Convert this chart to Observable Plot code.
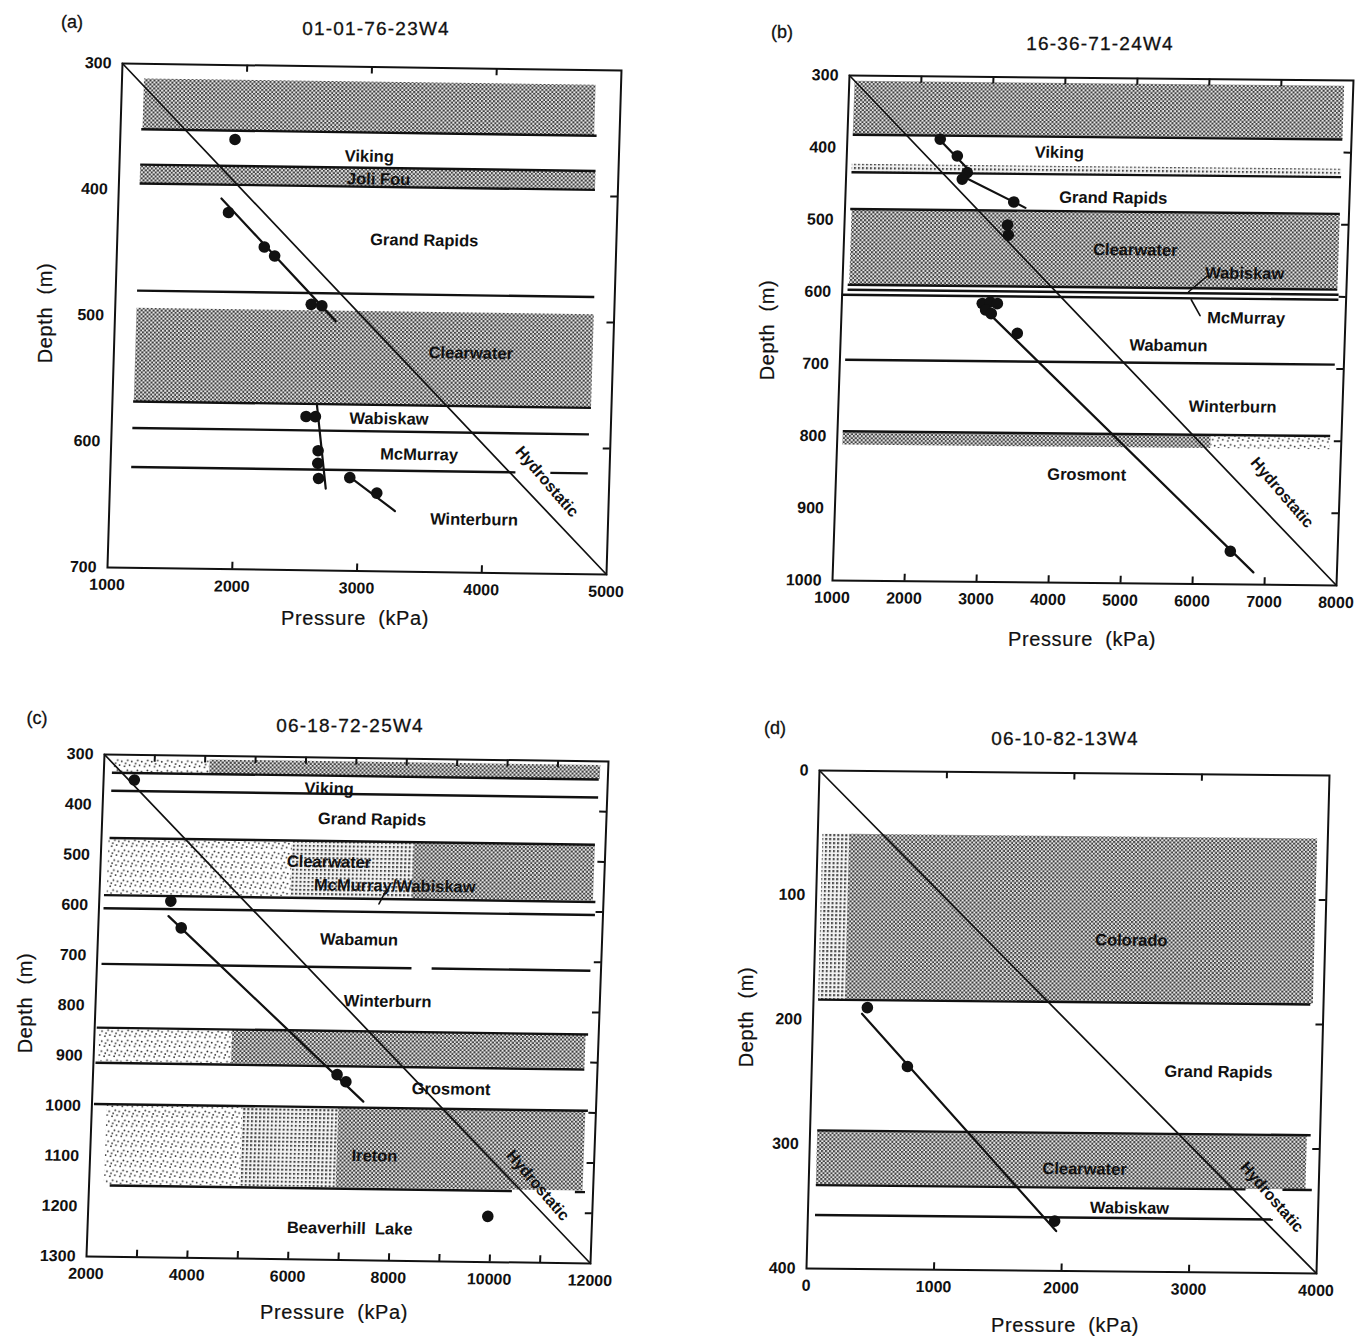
<!DOCTYPE html>
<html><head><meta charset="utf-8">
<script src="https://cdn.jsdelivr.net/npm/d3@7"></script>
<script src="https://cdn.jsdelivr.net/npm/@observablehq/plot@0.6"></script>
<style>
html,body{margin:0;padding:0;background:#fff;}
body{width:1361px;height:1337px;position:relative;overflow:hidden;font-family:"Liberation Sans",Arial,sans-serif;color:#111;}
.txt{position:absolute;white-space:pre;transform:translate(-50%,-50%);line-height:1;}
.ttl{font-size:19px;letter-spacing:1.2px;-webkit-text-stroke:0.3px #111;}
.let{font-size:18px;-webkit-text-stroke:0.3px #111;}
.ax{font-size:20px;letter-spacing:0.6px;-webkit-text-stroke:0.2px #111;}
.axy{font-size:20px;letter-spacing:0.6px;-webkit-text-stroke:0.2px #111;transform:translate(-50%,-50%) rotate(-90deg);}
svg.panel{position:absolute;overflow:visible;}
</style></head><body>
<svg width="0" height="0" style="position:absolute">
<defs>
<pattern id="pDense" width="4" height="4" patternUnits="userSpaceOnUse">
<rect width="4" height="4" fill="#e6e6e6"/><rect width="2" height="2" fill="#404040"/><rect x="2" y="2" width="2" height="2" fill="#404040"/>
</pattern>
<pattern id="pMid" width="4" height="4" patternUnits="userSpaceOnUse">
<rect width="4" height="4" fill="#f2f2f2"/><rect width="2" height="2" fill="#444"/>
</pattern>
<pattern id="pLight" width="10" height="10" patternUnits="userSpaceOnUse">
<rect width="10" height="10" fill="#ffffff"/>
<circle cx="1" cy="2" r="0.9" fill="#333"/><circle cx="6" cy="1" r="0.9" fill="#333"/><circle cx="4" cy="6" r="0.9" fill="#333"/><circle cx="8" cy="7" r="0.9" fill="#333"/><circle cx="2" cy="9" r="0.9" fill="#333"/>
</pattern>
</defs>
</svg>
<script>
// ---------- Panel (a) 01-01-76-23W4 ----------
const aXTicks = [1000, 2000, 3000, 4000, 5000];
const aYTicks = [300, 400, 500, 600, 700];
const aBands = [
  {x1: 1180, x2: 4800, y1: 312, y2: 352, tone: "dense"},
  {x1: 1170, x2: 4820, y1: 381, y2: 395, tone: "dense"},
  {x1: 1175, x2: 4840, y1: 494, y2: 568, tone: "dense"}
];
const aLayers = [
  {y: 352, x1: 1170, x2: 4820}, {y: 380, x1: 1170, x2: 4820}, {y: 395, x1: 1170, x2: 4820},
  {y: 480, x1: 1175, x2: 4840}, {y: 568, x1: 1170, x2: 4840}, {y: 589, x1: 1170, x2: 4830},
  {y: 620, x1: 1170, x2: 4250}, {y: 620, x1: 4530, x2: 4830}
];
const aPoints = [[1920, 359], [1885, 417], [2180, 444], [2265, 451], [2570, 489], [2655, 490],
  [2555, 578], [2630, 578], [2660, 605], [2660, 615], [2670, 627], [2920, 626], [3140, 638]];
const aFits = [
  {seg: 1, p: 1825, d: 406}, {seg: 1, p: 2770, d: 502},
  {seg: 2, p: 2640, d: 569}, {seg: 2, p: 2730, d: 635},
  {seg: 3, p: 2900, d: 624}, {seg: 3, p: 3290, d: 652}
];
const aHydro = [{p: 1000, d: 300}, {p: 5000, d: 700}];
const aLabels = [
  {p: 3000, d: 371, t: "Viking"}, {p: 3080, d: 389, t: "Joli Fou"}, {p: 3460, d: 437, t: "Grand Rapids"},
  {p: 3860, d: 526, t: "Clearwater"}, {p: 3220, d: 579, t: "Wabiskaw"}, {p: 3470, d: 607, t: "McMurray"},
  {p: 3925, d: 658, t: "Winterburn"}
];
const aHydroLabel = {p: 4500, d: 627, t: "Hydrostatic"};

// ---------- Panel (b) 16-36-71-24W4 ----------
const bXTicks = [1000, 2000, 3000, 4000, 5000, 6000, 7000, 8000];
const bYTicks = [300, 400, 500, 600, 700, 800, 900, 1000];
const bBands = [
  {x1: 1080, x2: 7880, y1: 308, y2: 382, tone: "dense"},
  {x1: 1080, x2: 7880, y1: 423, y2: 433, tone: "mid"},
  {x1: 1100, x2: 7880, y1: 487, y2: 590, tone: "dense"},
  {x1: 1080, x2: 6190, y1: 795, y2: 812, tone: "dense"},
  {x1: 6190, x2: 7850, y1: 795, y2: 812, tone: "light"}
];
const bLayers = [
  {y: 382, x1: 1080, x2: 7880}, {y: 434, x1: 1080, x2: 7880}, {y: 485, x1: 1080, x2: 7880},
  {y: 590, x1: 1080, x2: 7880}, {y: 597, x1: 1080, x2: 7900}, {y: 604, x1: 1000, x2: 7900},
  {y: 694, x1: 1080, x2: 7880}, {y: 793, x1: 1080, x2: 7850}
];
const bPoints = [[2290, 387], [2535, 410], [2680, 433], [2615, 442], [3340, 473], [3265, 505], [3280, 519],
  [2950, 614], [3060, 612], [3160, 614], [3000, 623], [3080, 628], [3450, 655], [6510, 954]];
const bFits = [
  {seg: 1, p: 2245, d: 384}, {seg: 1, p: 2750, d: 434},
  {seg: 2, p: 2680, d: 441}, {seg: 2, p: 3505, d: 481},
  {seg: 3, p: 3040, d: 627}, {seg: 3, p: 6840, d: 983}
];
const bLeaders = [
  {seg: 1, p: 6060, d: 573}, {seg: 1, p: 5810, d: 595},
  {seg: 2, p: 5980, d: 628}, {seg: 2, p: 5850, d: 606}
];
const bHydro = [{p: 1000, d: 300}, {p: 8000, d: 1000}];
const bLabels = [
  {p: 3950, d: 404, t: "Viking"}, {p: 4720, d: 466, t: "Grand Rapids"}, {p: 5050, d: 538, t: "Clearwater"},
  {p: 6580, d: 569, t: "Wabiskaw"}, {p: 6620, d: 631, t: "McMurray"}, {p: 5555, d: 670, t: "Wabamun"},
  {p: 6475, d: 754, t: "Winterburn"}, {p: 4480, d: 850, t: "Grosmont"}
];
const bHydroLabel = {p: 7200, d: 872, t: "Hydrostatic"};

// ---------- Panel (c) 06-18-72-25W4 ----------
const cXTicks = [2000, 4000, 6000, 8000, 10000, 12000];
const cYTicks = [300, 400, 500, 600, 700, 800, 900, 1000, 1100, 1200, 1300];
const cBands = [
  {x1: 2200, x2: 4100, y1: 308, y2: 336, tone: "light"},
  {x1: 4100, x2: 11850, y1: 308, y2: 336, tone: "dense"},
  {x1: 2150, x2: 5800, y1: 468, y2: 578, tone: "light"},
  {x1: 5800, x2: 8200, y1: 468, y2: 578, tone: "mid"},
  {x1: 8200, x2: 11800, y1: 468, y2: 578, tone: "dense"},
  {x1: 2100, x2: 4740, y1: 846, y2: 912, tone: "light"},
  {x1: 4740, x2: 11750, y1: 846, y2: 912, tone: "dense"},
  {x1: 2300, x2: 5000, y1: 998, y2: 1156, tone: "light"},
  {x1: 5000, x2: 6900, y1: 998, y2: 1156, tone: "mid"},
  {x1: 6900, x2: 11800, y1: 998, y2: 1156, tone: "dense"}
];
const cLayers = [
  {y: 336, x1: 2170, x2: 11830}, {y: 372, x1: 2170, x2: 11830}, {y: 466, x1: 2170, x2: 11800},
  {y: 580, x1: 2100, x2: 11850}, {y: 606, x1: 2100, x2: 11850},
  {y: 717, x1: 2100, x2: 8250}, {y: 717, x1: 8650, x2: 11800},
  {y: 844, x1: 2050, x2: 11800}, {y: 914, x1: 2050, x2: 11750}, {y: 996, x1: 2050, x2: 11850},
  {y: 1158, x1: 2420, x2: 10400}, {y: 1158, x1: 11650, x2: 11850}
];
const cPoints = [[2610, 350], [3420, 590], [3645, 643], [6840, 931], [7020, 945], [9930, 1209]];
const cFits = [{seg: 1, p: 3385, d: 620}, {seg: 1, p: 7380, d: 984}];
const cLeaders = [{seg: 1, p: 7680, d: 563}, {seg: 1, p: 7550, d: 590}];
const cHydro = [{p: 2000, d: 300}, {p: 12000, d: 1300}];
const cLabels = [
  {p: 6480, d: 362, t: "Viking"}, {p: 7350, d: 422, t: "Grand Rapids"}, {p: 6530, d: 508, t: "Clearwater"},
  {p: 7850, d: 554, t: "McMurray/Wabiskaw"}, {p: 7180, d: 662, t: "Wabamun"}, {p: 7790, d: 784, t: "Winterburn"},
  {p: 9110, d: 957, t: "Grosmont"}, {p: 7640, d: 1092, t: "Ireton"}, {p: 7200, d: 1237, t: "Beaverhill  Lake"}
];
const cHydroLabel = {p: 10900, d: 1146, t: "Hydrostatic"};

// ---------- Panel (d) 06-10-82-13W4 ----------
const dXTicks = [0, 1000, 2000, 3000, 4000];
const dYTicks = [0, 100, 200, 300, 400];
const dBands = [
  {x1: 40, x2: 250, y1: 51, y2: 184, tone: "mid"},
  {x1: 250, x2: 3920, y1: 51, y2: 184, tone: "dense"},
  {x1: 60, x2: 3900, y1: 289, y2: 333, tone: "dense"}
];
const dLayers = [
  {y: 184, x1: 40, x2: 3900}, {y: 289, x1: 60, x2: 3930},
  {y: 333, x1: 60, x2: 3430}, {y: 333, x1: 3720, x2: 3950}, {y: 357, x1: 60, x2: 3650}
];
const dPoints = [[424, 190], [750, 237], [1936, 360]];
const dFits = [{seg: 1, p: 383, d: 195}, {seg: 1, p: 1950, d: 368}];
const dHydro = [{p: 0, d: 0}, {p: 4000, d: 400}];
const dLabels = [
  {p: 2480, d: 134, t: "Colorado"}, {p: 3190, d: 239, t: "Grand Rapids"},
  {p: 2160, d: 318, t: "Clearwater"}, {p: 2520, d: 349, t: "Wabiskaw"}
];
const dHydroLabel = {p: 3635, d: 339, t: "Hydrostatic"};

// ---------- texts ----------
const panelTexts = [
  {letter: "(a)", lx: 72, ly: 22, title: "01-01-76-23W4", tx: 376, ty: 28, xl: [355, 618], yl: [45, 313]},
  {letter: "(b)", lx: 782, ly: 32, title: "16-36-71-24W4", tx: 1100, ty: 43, xl: [1082, 639], yl: [767, 330]},
  {letter: "(c)", lx: 37, ly: 718, title: "06-18-72-25W4", tx: 350, ty: 725, xl: [334, 1312], yl: [25, 1003]},
  {letter: "(d)", lx: 775, ly: 728, title: "06-10-82-13W4", tx: 1065, ty: 738, xl: [1065, 1325], yl: [746, 1017]}
];

const FILL = {dense: "url(#pDense)", mid: "url(#pMid)", light: "url(#pLight)"};
const INK = "#111";
const FONT = "'Liberation Sans', Arial, sans-serif";

function drawPanel(cfg) {
  const {xDomain, yDomain, xTicks, yTicks, xInner, yInner, bands, layers, points, fits, leaders, hydro, labels, hydroLabel, geom} = cfg;
  const ML = 60, MR = 20, MT = 20, MB = 40;
  const {BL, TL, BR} = geom;
  const FW = BR[0] - BL[0], FH = BL[1] - TL[1];
  const sx = (BL[0] - TL[0]) / FH, sy = (BR[1] - BL[1]) / FW;
  const tkY = (yDomain[1] - yDomain[0]) * 7 / FH;
  const tkX = (xDomain[1] - xDomain[0]) * 7 / FW;
  const pts = points.map(([p, d]) => ({p, d}));
  const chart = Plot.plot({
    width: ML + FW + MR, height: MT + FH + MB,
    marginLeft: ML, marginRight: MR, marginTop: MT, marginBottom: MB,
    x: {domain: xDomain},
    y: {domain: yDomain, reverse: true},
    style: {fontFamily: FONT, background: "transparent", color: INK, overflow: "visible"},
    marks: [
      ...["light", "mid", "dense"].map(t => Plot.rect(bands.filter(b => b.tone === t), {x1: "x1", x2: "x2", y1: "y1", y2: "y2", fill: FILL[t]})),
      Plot.ruleY(layers, {y: "y", x1: "x1", x2: "x2", stroke: INK, strokeWidth: 2.4}),
      Plot.line(hydro, {x: "p", y: "d", stroke: INK, strokeWidth: 1.7}),
      Plot.line(fits, {x: "p", y: "d", z: "seg", stroke: INK, strokeWidth: 2.2}),
      Plot.line(leaders, {x: "p", y: "d", z: "seg", stroke: INK, strokeWidth: 1.6}),
      Plot.dot(pts, {x: "p", y: "d", r: 5.8, fill: INK, stroke: "none"}),
      Plot.text(labels, {x: "p", y: "d", text: "t", fontWeight: "bold", fontSize: 16.5, fill: INK, letterSpacing: "-0.2px"}),
      Plot.text([hydroLabel], {x: "p", y: "d", text: "t", rotate: 48, fontWeight: "bold", fontSize: 16, fill: INK}),
      Plot.frame({stroke: INK, strokeWidth: 2}),
      Plot.ruleX(xInner, {x: d => d, y1: yDomain[0], y2: yDomain[0] + tkY, stroke: INK, strokeWidth: 2}),
      Plot.ruleX(xInner, {x: d => d, y1: yDomain[1], y2: yDomain[1] - tkY, stroke: INK, strokeWidth: 2}),
      Plot.ruleY(yInner, {y: d => d, x1: xDomain[1], x2: xDomain[1] - tkX, stroke: INK, strokeWidth: 2}),
      Plot.axisX({ticks: xTicks, tickSize: 0, tickPadding: 11, fontSize: 16, fontWeight: "bold", label: null, tickFormat: d => String(d)}),
      Plot.axisY({ticks: yTicks, tickSize: 0, tickPadding: 11, fontSize: 16, fontWeight: "bold", label: null, tickFormat: d => String(d)})
    ]
  });
  chart.classList.add("panel");
  chart.style.left = (BL[0] - ML) + "px";
  chart.style.top = (BL[1] - FH - MT) + "px";
  chart.style.transformOrigin = `${ML}px ${MT + FH}px`;
  chart.style.transform = `matrix(1, ${sy}, ${sx}, 1, 0, 0)`;
  document.body.appendChild(chart);
}

drawPanel({xDomain: [1000, 5000], yDomain: [300, 700], xTicks: aXTicks, yTicks: aYTicks,
  xInner: aXTicks.slice(1, -1), yInner: aYTicks.slice(1, -1), bands: aBands, layers: aLayers, points: aPoints,
  fits: aFits, leaders: [], hydro: aHydro, labels: aLabels, hydroLabel: aHydroLabel,
  geom: {BL: [107, 567], TL: [122, 63], BR: [606, 574]}});
drawPanel({xDomain: [1000, 8000], yDomain: [300, 1000], xTicks: bXTicks, yTicks: bYTicks,
  xInner: bXTicks.slice(1, -1), yInner: bYTicks.slice(1, -1), bands: bBands, layers: bLayers, points: bPoints,
  fits: bFits, leaders: bLeaders, hydro: bHydro, labels: bLabels, hydroLabel: bHydroLabel,
  geom: {BL: [832, 580], TL: [849, 75], BR: [1336, 585]}});
drawPanel({xDomain: [2000, 12000], yDomain: [300, 1300], xTicks: cXTicks, yTicks: cYTicks,
  xInner: d3.range(3000, 12000, 1000), yInner: cYTicks.slice(1, -1), bands: cBands, layers: cLayers, points: cPoints,
  fits: cFits, leaders: cLeaders, hydro: cHydro, labels: cLabels, hydroLabel: cHydroLabel,
  geom: {BL: [86, 1256], TL: [104, 754], BR: [590, 1263]}});
drawPanel({xDomain: [0, 4000], yDomain: [0, 400], xTicks: dXTicks, yTicks: dYTicks,
  xInner: dXTicks.slice(1, -1), yInner: dYTicks.slice(1, -1), bands: dBands, layers: dLayers, points: dPoints,
  fits: dFits, leaders: [], hydro: dHydro, labels: dLabels, hydroLabel: dHydroLabel,
  geom: {BL: [806, 1268], TL: [819, 770], BR: [1316, 1273]}});

for (const t of panelTexts) {
  const add = (cls, txt, x, y) => {
    const el = document.createElement("div");
    el.className = "txt " + cls;
    el.textContent = txt;
    el.style.left = x + "px";
    el.style.top = y + "px";
    document.body.appendChild(el);
  };
  add("let", t.letter, t.lx, t.ly);
  add("ttl", t.title, t.tx, t.ty);
  add("ax", "Pressure  (kPa)", t.xl[0], t.xl[1]);
  add("axy", "Depth  (m)", t.yl[0], t.yl[1]);
}
</script>
</body></html>
